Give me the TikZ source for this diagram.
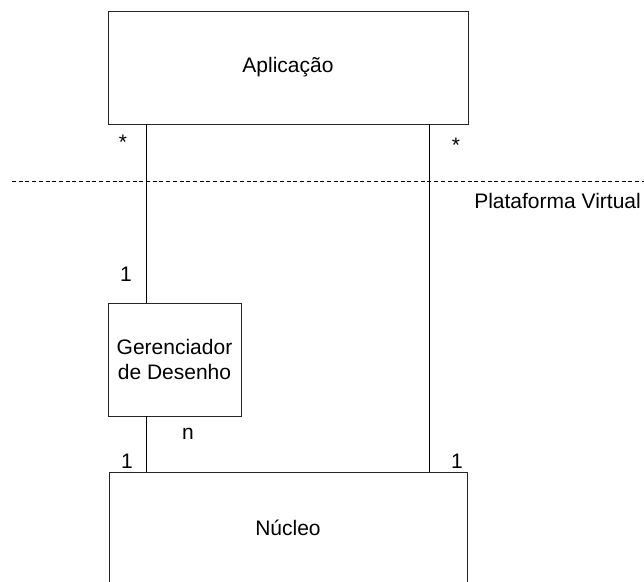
\documentclass[tikz,border=0pt]{standalone}
\usepackage{fontspec}
\setmainfont{Liberation Sans}
\begin{document}
\begin{tikzpicture}[x=1pt,y=-1pt,
  font=\fontsize{21}{25}\selectfont,
  box/.style={draw=black!85, line width=0.9pt, inner sep=0pt, align=center},
  link/.style={draw, line width=0.9pt},
  mult/.style={inner sep=0pt}]
  \useasboundingbox (0,0) rectangle (644,581);
  \clip (0,0) rectangle (644,581);
  % components
  \node[box, minimum width=360, minimum height=113] (app) at (288,67.5) {Aplicação};
  \node[box, minimum width=133, minimum height=113] (ger) at (174.5,359.5) {Gerenciador\\de Desenho};
  \node[box, minimum width=358, minimum height=112] (nuc) at (288,528) {Núcleo};
  % x positions of the two associations
  \coordinate (lx) at (146,0);
  \coordinate (rx) at (429,0);
  % associations
  \draw[link] (app.south -| lx) -- (ger.north -| lx);
  \draw[link] (ger.south -| lx) -- (nuc.north -| lx);
  \draw[link] (app.south -| rx) -- (nuc.north -| rx);
  % platform boundary
  \coordinate (pl) at (12,181);
  \coordinate (pr) at (644,181);
  \draw[line width=0.8pt, dash pattern=on 4pt off 2.7pt] (pl) -- (pr);
  \node[mult, anchor=east] (plat) at (641,201) {Plataforma Virtual};
  % multiplicities
  \node[mult] (s1) at (123,142) {*};
  \node[mult] (s2) at (456,145) {*};
  \node[mult] (m1) at (126,274) {1};
  \node[mult] (mn) at (188,434) {n};
  \node[mult] (m2) at (127,461) {1};
  \node[mult] (m3) at (457,461) {1};
\end{tikzpicture}
\end{document}
